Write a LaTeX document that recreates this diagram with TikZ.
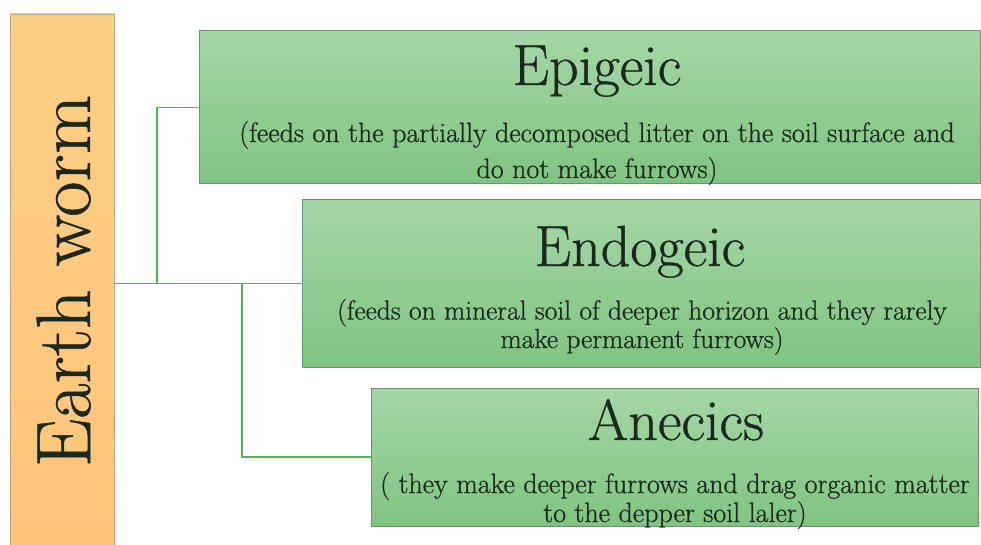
\documentclass[tikz,border=0pt]{standalone}
\usepackage{fontspec}
\setmainfont{Latin Modern Roman}[RawFeature={embolden=0.7}]
\definecolor{gtop}{HTML}{A6D6A8}
\definecolor{gbot}{HTML}{7FC482}
\definecolor{gedge}{HTML}{6F8F71}
\definecolor{lineg}{HTML}{4DB84F}
\definecolor{otop}{HTML}{FFCE86}
\definecolor{obot}{HTML}{FDC57A}
\definecolor{oedge}{HTML}{B9A48A}
\definecolor{txt}{HTML}{1C281C}
\begin{document}
\begin{tikzpicture}[x=1pt,y=1pt,
  catbox/.style={draw=gedge,line width=1pt,top color=gtop,bottom color=gbot},
  title/.style={anchor=base,text=txt,font=\fontsize{58}{62}\selectfont,inner sep=0pt},
  body/.style={anchor=base,text=txt,align=center,inner sep=0pt},
  conn/.style={draw=lineg,line width=1.4pt}]
\useasboundingbox (0,0) rectangle (981,544);
% Earth worm bar
\path[draw=oedge,line width=0.8pt,top color=otop,bottom color=obot] (10,-2) rectangle (114,530);
\node[draw=none,minimum width=104pt,minimum height=532pt,inner sep=0pt] (ew) at (62,264) {};
\node[anchor=base,rotate=90,text=txt,font=\fontsize{77}{82}\selectfont,inner sep=0pt] (ewt) at (90,263) {Earth worm};
% boxes
\path[catbox] (199,513) rectangle (980,360);
\node[inner sep=0pt,minimum width=781pt,minimum height=153pt] (epi) at (589.5,436.5) {};
\path[catbox] (302,344) rectangle (980,177);
\node[inner sep=0pt,minimum width=678pt,minimum height=167pt] (endo) at (641,260.5) {};
\path[catbox] (371,156) rectangle (978,18);
\node[inner sep=0pt,minimum width=607pt,minimum height=138pt] (ane) at (674.5,87) {};
% texts
\node[title] (t1) at (597,459) {Epigeic};
\node[body,font=\fontsize{28}{36}\selectfont] (b1) at (597,366) {(feeds on the partially decomposed litter on the soil surface and\\do not make furrows)};
\node[title] (t2) at (640,278) {Endogeic};
\node[body,font=\fontsize{27.5}{26}\selectfont] (b2) at (642,196) {(feeds on mineral soil of deeper horizon and they rarely\\make permanent furrows)};
\node[title] (t3) at (676,104) {Anecics};
\node[body,font=\fontsize{28}{27}\selectfont] (b3) at (675,22) {( they make deeper furrows and drag organic matter\\to the depper soil laler)};
% connectors
\coordinate (j1) at (157,260.5);
\coordinate (j2) at (242,260.5);
\draw[conn] (ew.east |- endo.west) -- (endo.west);
\draw[conn] (j1) |- (epi.west);
\draw[conn] (j2) |- (ane.west);
\end{tikzpicture}
\end{document}
